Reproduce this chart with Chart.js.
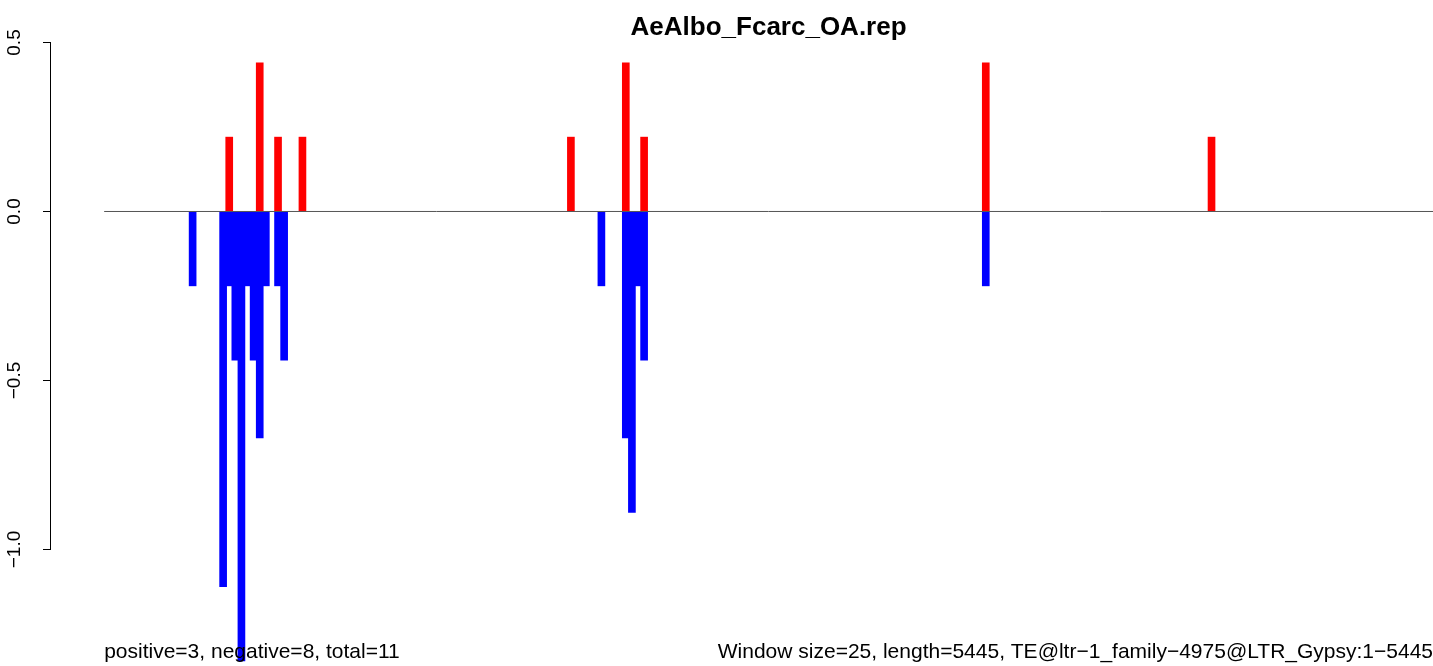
<!DOCTYPE html>
<html>
<head>
<meta charset="utf-8">
<script src="https://cdn.jsdelivr.net/npm/chart.js@4.4.1/dist/chart.umd.min.js"></script>
<style>
  html, body { margin: 0; padding: 0; background: #fff; }
</style>
</head>
<body>
<canvas id="repChart" width="1433" height="666"></canvas>
<script>
var winSize = 25;
var seqLength = 5445;

// window index -> value (positive strand hits)
var posWindows = [20, 25, 28, 32, 76, 85, 88, 144, 181];
var posValues = [0.22, 0.44, 0.22, 0.22, 0.22, 0.44, 0.22, 0.44, 0.22];

// window index -> value (negative strand hits)
var negWindows = [14, 19, 20, 21, 22, 23, 24, 25, 26, 28, 29, 81, 85, 86, 87, 88, 144];
var negValues = [-0.22, -1.11, -0.22, -0.44, -1.33, -0.22, -0.44, -0.67, -0.22, -0.22, -0.44, -0.22, -0.67, -0.89, -0.22, -0.44, -0.22];

var yTicks = [-1.0, -0.5, 0.0, 0.5];
var yTickLabels = ["\u22121.0", "\u22120.5", "0.0", "0.5"];

var titleText = "AeAlbo_Fcarc_OA.rep";
var leftNote = "positive=3, negative=8, total=11";
var rightNote = "Window size=25, length=5445, TE@ltr\u22121_family\u22124975@LTR_Gypsy:1\u22125445";

var fontFamily = "'Liberation Sans', Arial, Helvetica, sans-serif";

function toPoints(wins, vals) {
  return wins.map(function (k, i) {
    return { x: (k + 0.5) * winSize, y: vals[i] };
  });
}

// draws the R-style y axis labels, title and footnotes
var rDecor = {
  id: "rDecor",
  afterDraw: function (chart) {
    var ctx = chart.ctx;
    var ys = chart.scales.y;
    var xs = chart.scales.x;
    ctx.save();
    ctx.strokeStyle = "#000";
    ctx.lineWidth = 1;
    ctx.beginPath();
    ctx.moveTo(ys.right - 0.5, ys.getPixelForValue(yTicks[yTicks.length - 1]));
    ctx.lineTo(ys.right - 0.5, ys.getPixelForValue(yTicks[0]));
    ctx.stroke();

    ctx.fillStyle = "#000";
    ctx.font = "19px " + fontFamily;
    ctx.textAlign = "center";
    ctx.textBaseline = "middle";
    yTicks.forEach(function (v, i) {
      ctx.save();
      ctx.translate(15, ys.getPixelForValue(v));
      ctx.rotate(-Math.PI / 2);
      ctx.fillText(yTickLabels[i], 0, 0);
      ctx.restore();
    });

    ctx.font = "bold 26px " + fontFamily;
    ctx.fillText(titleText, xs.getPixelForValue(seqLength / 2), 28);

    ctx.font = "21px " + fontFamily;
    ctx.textAlign = "left";
    ctx.fillText(leftNote, xs.getPixelForValue(0), 652);
    ctx.textAlign = "right";
    ctx.fillText(rightNote, xs.getPixelForValue(seqLength), 652);
    ctx.restore();
  }
};

var ctx = document.getElementById("repChart");

new Chart(ctx, {
  type: "bar",
  data: {
    datasets: [
      {
        type: "line",
        label: "zero",
        data: [{ x: 0, y: 0 }, { x: seqLength, y: 0 }],
        borderColor: "#555555",
        borderWidth: 1,
        pointRadius: 0,
        order: 0
      },
      {
        label: "positive",
        data: toPoints(posWindows, posValues),
        backgroundColor: "#ff0000",
        borderWidth: 0,
        barThickness: 7,
        grouped: false,
        order: 1
      },
      {
        label: "negative",
        data: toPoints(negWindows, negValues),
        backgroundColor: "#0000ff",
        borderWidth: 0,
        barThickness: 7,
        grouped: false,
        order: 1
      }
    ]
  },
  options: {
    responsive: false,
    animation: false,
    devicePixelRatio: 1,
    layout: { padding: 0 },
    plugins: {
      legend: { display: false },
      title: { display: false },
      tooltip: { enabled: false }
    },
    scales: {
      x: {
        type: "linear",
        min: -seqLength * 0.04,
        max: seqLength,
        offset: false,
        display: false
      },
      y: {
        type: "linear",
        position: "left",
        min: -1.3447,
        max: 0.6257,
        afterBuildTicks: function (scale) {
          scale.ticks = yTicks.map(function (v) { return { value: v }; });
        },
        afterFit: function (scale) {
          scale.width = 51;
        },
        border: { display: false },
        grid: {
          drawOnChartArea: false,
          drawTicks: true,
          tickLength: 8,
          color: "#000"
        },
        ticks: { display: false }
      }
    }
  },
  plugins: [rDecor]
});
</script>
</body>
</html>
